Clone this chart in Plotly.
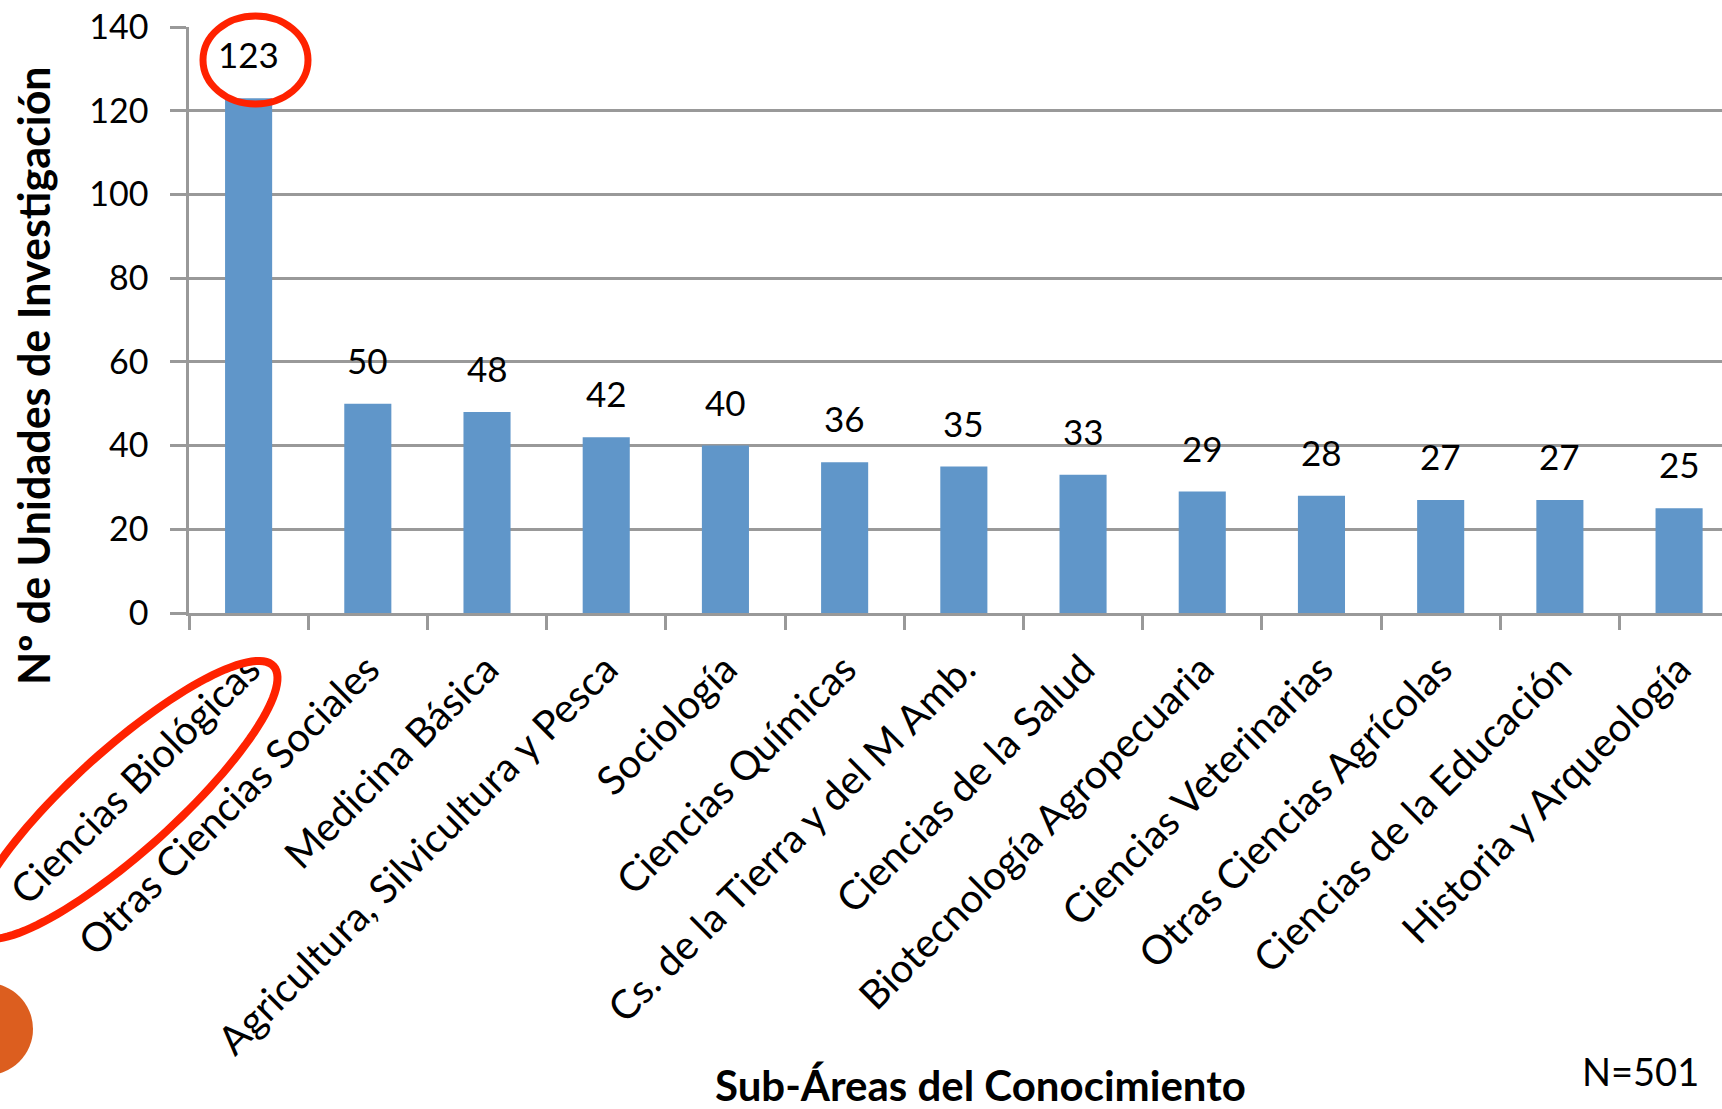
import numpy as np
import plotly.graph_objects as go

categories = [
    "Ciencias Biológicas", "Otras Ciencias Sociales", "Medicina Básica",
    "Agricultura, Silvicultura y Pesca", "Sociología", "Ciencias Químicas",
    "Cs. de la Tierra y del M Amb.", "Ciencias de la Salud",
    "Biotecnología Agropecuaria", "Ciencias Veterinarias",
    "Otras Ciencias Agrícolas", "Ciencias de la Educación",
    "Historia y Arqueología",
]
values = [123, 50, 48, 42, 40, 36, 35, 33, 29, 28, 27, 27, 25]
y_ticks = [0, 20, 40, 60, 80, 100, 120, 140]
y_title = "Nº de Unidades de Investigación"
x_title = "Sub-Áreas del Conocimiento"
n_note = "N=501"

W, H = 1722, 1109
L, R, T, B = 189, 0, 27, 613  # plot area in pixels
PW, PH = W - L - R, B - T
FONT = "Lato"
GRAY = "#999999"
BAR = "#6096c9"
RED = "#ff2200"


def px(x):
    return (x - L) / PW


def py(y):
    return (B - y) / PH


fig = go.Figure()
fig.add_trace(go.Bar(x=categories, y=values, marker=dict(color=BAR, line=dict(width=0)),
                     hoverinfo="x+y"))

annotations = []
for c, v in zip(categories, values):
    annotations.append(dict(x=c, y=v, xref="x", yref="y", text=str(v), showarrow=False,
                            yanchor="bottom", xanchor="center", yshift=21,
                            font=dict(family=FONT, size=35, color="black")))

annotations.append(dict(x=px(33), y=py(376), xref="paper", yref="paper", text="<b>%s</b>" % y_title,
                        textangle=-90, showarrow=False, xanchor="center", yanchor="middle",
                        font=dict(family=FONT, size=43, color="black")))
annotations.append(dict(x=px(980), y=py(1085), xref="paper", yref="paper", text="<b>%s</b>" % x_title,
                        showarrow=False, xanchor="center", yanchor="middle",
                        font=dict(family=FONT, size=42, color="black")))
annotations.append(dict(x=px(1640), y=py(1071), xref="paper", yref="paper", text=n_note,
                        showarrow=False, xanchor="center", yanchor="middle",
                        font=dict(family=FONT, size=38, color="black")))

shapes = []
# ellipse around the 123 label
cx, cy, rx, ry = 255.5, 60, 52.5, 44
shapes.append(dict(type="circle", xref="paper", yref="paper",
                   x0=px(cx - rx), x1=px(cx + rx), y0=py(cy + ry), y1=py(cy - ry),
                   line=dict(color=RED, width=7), layer="above"))
# rotated ellipse around first category label
ecx, ecy, ea, eb, ang = 125, 800, 200, 51, np.deg2rad(42)
t = np.linspace(0, 2 * np.pi, 121)
ex = ecx + ea * np.cos(t) * np.cos(ang) - eb * np.sin(t) * np.sin(ang)
ey = ecy - ea * np.cos(t) * np.sin(ang) - eb * np.sin(t) * np.cos(ang)
path = "M " + " L ".join("%.5f,%.5f" % (px(a), py(b)) for a, b in zip(ex, ey)) + " Z"
shapes.append(dict(type="path", xref="paper", yref="paper", path=path,
                   line=dict(color=RED, width=8), layer="above"))
# orange circle at bottom left
ocx, ocy, orr = -13, 1029, 46
shapes.append(dict(type="circle", xref="paper", yref="paper",
                   x0=px(ocx - orr), x1=px(ocx + orr), y0=py(ocy + orr), y1=py(ocy - orr),
                   fillcolor="#dc5e1f", line=dict(width=0), layer="above"))

fig.update_layout(
    width=W, height=H, autosize=False,
    margin=dict(l=L, r=R, t=T, b=H - B, pad=0),
    paper_bgcolor="white", plot_bgcolor="white",
    showlegend=False, bargap=0.605,
    font=dict(family=FONT, color="black"),
    annotations=annotations, shapes=shapes,
    xaxis=dict(type="category", range=[-0.5, 12.36], showgrid=False, showline=True,
               linecolor=GRAY, linewidth=2.5, ticks="outside", tickson="boundaries",
               ticklen=14, tickwidth=2.5, tickcolor=GRAY, tickangle=-45,
               tickfont=dict(family=FONT, size=40, color="black"), ticklabelstandoff=14,
               automargin=False, fixedrange=True),
    yaxis=dict(range=[0, 140], tickvals=y_ticks, showgrid=True, gridcolor=GRAY, gridwidth=2.5,
               zeroline=False, showline=True, linecolor=GRAY, linewidth=2.5,
               ticks="outside", ticklen=16, tickwidth=2.5, tickcolor=GRAY,
               tickfont=dict(family=FONT, size=34, color="black"), ticklabelstandoff=15,
               automargin=False, fixedrange=True),
)

fig.write_html("out.html", config={"displayModeBar": False},
               post_script="document.body.style.margin='0px';")
